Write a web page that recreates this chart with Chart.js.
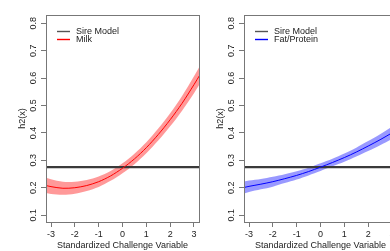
<!DOCTYPE html>
<html>
<head>
<meta charset="utf-8">
<script src="https://cdn.jsdelivr.net/npm/chart.js@4.4.1/dist/chart.umd.min.js"></script>
<style>
  html, body { margin: 0; padding: 0; background: #fff; overflow: hidden; }
  #wrap { position: relative; width: 390px; height: 251px; overflow: hidden; }
  canvas { position: absolute; top: 0; }
</style>
</head>
<body>
<div id="wrap">
  <canvas id="milkChart" width="210" height="251" style="left:0px"></canvas>
  <canvas id="fatChart" width="210" height="251" style="left:198px"></canvas>
</div>
<script>
// tick labels
const xTicks = [-3, -2, -1, 0, 1, 2, 3];
const yTicks = [0.1, 0.2, 0.3, 0.4, 0.5, 0.6, 0.7, 0.8];

// standardized challenge variable
const xVals = [-3.25, -3, -2.5, -2, -1.5, -1, -0.5, 0, 0.5, 1, 1.5, 2, 2.5, 3, 3.25];

// milk h2(x) with band
const milkMid  = [0.209, 0.204, 0.198, 0.200, 0.208, 0.222, 0.243, 0.271, 0.305, 0.346, 0.394, 0.448, 0.508, 0.576, 0.612];
const milkLow  = [0.181, 0.177, 0.174, 0.178, 0.188, 0.203, 0.225, 0.253, 0.286, 0.326, 0.372, 0.424, 0.481, 0.545, 0.579];
const milkHigh = [0.237, 0.231, 0.222, 0.222, 0.228, 0.241, 0.261, 0.289, 0.324, 0.366, 0.416, 0.472, 0.535, 0.607, 0.645];

// fat/protein h2(x) with band
const fatMid  = [0.200, 0.205, 0.213, 0.222, 0.233, 0.245, 0.259, 0.275, 0.292, 0.310, 0.330, 0.352, 0.375, 0.400, 0.413];
const fatLow  = [0.178, 0.184, 0.194, 0.204, 0.217, 0.230, 0.245, 0.261, 0.278, 0.295, 0.314, 0.334, 0.355, 0.378, 0.389];
const fatHigh = [0.222, 0.226, 0.232, 0.240, 0.249, 0.260, 0.273, 0.289, 0.306, 0.325, 0.346, 0.370, 0.395, 0.422, 0.437];

// sire model heritability (flat)
const sireX = [-3.5, 3.5];
const sireH2 = [0.275, 0.275];

const FONT = "'Liberation Sans', Arial, sans-serif";
const AXIS_COL = "#777";
const TEXT_COL = "#222";

function pts(xs, ys) {
  return xs.map(function (x, i) { return { x: x, y: ys[i] }; });
}

// box, rotated y labels and legend, R style
const rStyle = {
  id: "rStyle",
  afterDraw: function (chart) {
    const ctx = chart.ctx;
    const a = chart.chartArea;
    const y = chart.scales.y;
    ctx.save();
    ctx.strokeStyle = AXIS_COL;
    ctx.lineWidth = 1;
    ctx.strokeRect(Math.round(a.left) + 0.5, Math.round(a.top) + 0.5,
      Math.round(a.right - a.left), Math.round(a.bottom - a.top));

    ctx.fillStyle = TEXT_COL;
    ctx.font = "9px " + FONT;
    ctx.textAlign = "center";
    ctx.textBaseline = "middle";
    yTicks.forEach(function (v) {
      ctx.save();
      ctx.translate(a.left - 12, y.getPixelForValue(v));
      ctx.rotate(-Math.PI / 2);
      ctx.fillText(v.toFixed(1), 0, 0);
      ctx.restore();
    });

    // legend
    const items = chart.options.plugins.rLegend.items;
    ctx.textAlign = "left";
    items.forEach(function (it, i) {
      const ly = a.top + 16 + i * 8;
      ctx.strokeStyle = it.color;
      ctx.lineWidth = 1.4;
      ctx.beginPath();
      ctx.moveTo(a.left + 11, ly + 0.5);
      ctx.lineTo(a.left + 24, ly + 0.5);
      ctx.stroke();
      ctx.fillText(it.text, a.left + 30, ly + 0.5);
    });
    ctx.restore();
  }
};

function makeChart(id, mid, low, high, lineColor, bandColor, name) {
  const ctx = document.getElementById(id).getContext("2d");
  return new Chart(ctx, {
    type: "line",
    data: {
      datasets: [
        { data: pts(xVals, low), borderWidth: 0, pointRadius: 0, fill: false, tension: 0.3, order: 3 },
        { data: pts(xVals, high), borderWidth: 0, pointRadius: 0, fill: 0, backgroundColor: bandColor, tension: 0.3, order: 2 },
        { data: pts(sireX, sireH2), borderColor: "#3a3a3a", borderWidth: 2.2, pointRadius: 0, fill: false, order: 1 },
        { data: pts(xVals, mid), borderColor: lineColor, borderWidth: 1, pointRadius: 0, fill: false, tension: 0.3, order: 0 }
      ]
    },
    options: {
      responsive: false,
      animation: false,
      devicePixelRatio: 1,
      layout: { padding: { top: 15, right: 11, left: 0, bottom: 0 } },
      plugins: {
        legend: { display: false },
        tooltip: { enabled: false },
        rLegend: { items: [{ text: "Sire Model", color: "#555" }, { text: name, color: lineColor }] }
      },
      scales: {
        x: {
          type: "linear",
          min: -3.21,
          max: 3.21,
          afterBuildTicks: function (s) { s.ticks = xTicks.map(function (v) { return { value: v }; }); },
          afterFit: function (s) { s.height = 29; },
          border: { display: false },
          grid: { drawOnChartArea: false, drawTicks: true, tickLength: 5, color: AXIS_COL },
          ticks: { color: TEXT_COL, font: { family: FONT, size: 9 }, padding: 2, maxRotation: 0 },
          title: { display: true, text: "Standardized Challenge Variable", color: TEXT_COL,
                   font: { family: FONT, size: 9 }, padding: { top: 0, bottom: 0 } }
        },
        y: {
          type: "linear",
          min: 0.075,
          max: 0.83,
          afterBuildTicks: function (s) { s.ticks = yTicks.map(function (v) { return { value: v }; }); },
          afterFit: function (s) { s.width = 46; },
          border: { display: false },
          grid: { drawOnChartArea: false, drawTicks: true, tickLength: 5, color: AXIS_COL },
          ticks: { display: false },
          title: { display: true, text: "h2(x)", color: TEXT_COL,
                   font: { family: FONT, size: 9 }, padding: { top: 17, bottom: 0 } }
        }
      }
    },
    plugins: [rStyle]
  });
}

makeChart("milkChart", milkMid, milkLow, milkHigh, "#ff0000", "rgba(255,0,0,0.4)", "Milk");
makeChart("fatChart", fatMid, fatLow, fatHigh, "#0000ff", "rgba(0,0,255,0.4)", "Fat/Protein");
</script>
</body>
</html>
